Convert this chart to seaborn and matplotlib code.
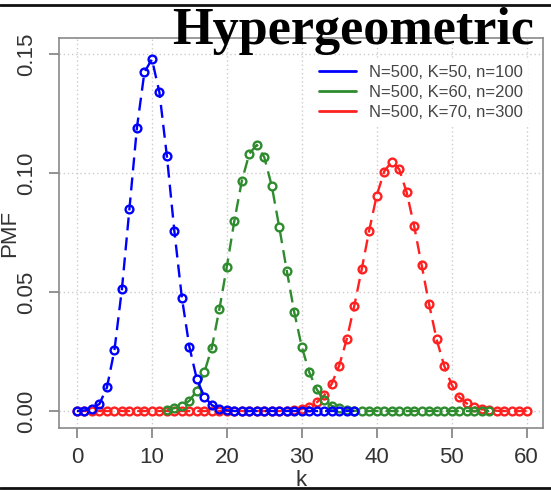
import matplotlib
matplotlib.use("Agg")
import matplotlib.pyplot as plt
from matplotlib.lines import Line2D
import seaborn as sns
import pandas as pd

# ---- data ----
blue_k = list(range(0, 38))
blue_pmf = [0.0000, 0.0002, 0.0010, 0.0030, 0.0099, 0.0256, 0.0513, 0.0849, 0.1190, 0.1423,
            0.1478, 0.1339, 0.1071, 0.0755, 0.0476, 0.0270, 0.0133, 0.0060, 0.0025, 0.0009,
            0.0003, 0.0000, 0.0000, 0.0000, 0.0000, 0.0000, 0.0000, 0.0000, 0.0000, 0.0000,
            0.0000, 0.0000, 0.0000, 0.0000, 0.0000, 0.0000, 0.0000, 0.0000]

green_k = list(range(12, 56))
green_pmf = [0.0004, 0.0012, 0.0021, 0.0043, 0.0085, 0.0163, 0.0266, 0.0427, 0.0606, 0.0798,
             0.0966, 0.1081, 0.1118, 0.1066, 0.0945, 0.0772, 0.0590, 0.0415, 0.0270, 0.0163,
             0.0091, 0.0045, 0.0022, 0.0011, 0.0004, 0.0001, 0.0000, 0.0000, 0.0000, 0.0000,
             0.0000, 0.0000, 0.0000, 0.0000, 0.0000, 0.0000, 0.0000, 0.0000, 0.0000, 0.0000,
             0.0000, 0.0000, 0.0000, 0.0000]

red_k = list(range(0, 61))
red_pmf = [0.0000, 0.0000, 0.0000, 0.0000, 0.0000, 0.0000, 0.0000, 0.0000, 0.0000, 0.0000,
           0.0000, 0.0000, 0.0000, 0.0000, 0.0000, 0.0000, 0.0000, 0.0000, 0.0000, 0.0000,
           0.0000, 0.0000, 0.0000, 0.0000, 0.0000, 0.0000, 0.0000, 0.0000, 0.0001, 0.0003,
           0.0008, 0.0018, 0.0036, 0.0066, 0.0114, 0.0191, 0.0301, 0.0440, 0.0595, 0.0758,
           0.0905, 0.1006, 0.1048, 0.1016, 0.0919, 0.0777, 0.0613, 0.0448, 0.0301, 0.0191,
           0.0111, 0.0059, 0.0032, 0.0016, 0.0007, 0.0003, 0.0001, 0.0000, 0.0000, 0.0000,
           0.0000]

series_labels = ["N=500, K=50, n=100", "N=500, K=60, n=200", "N=500, K=70, n=300"]
series_colors = ["#0000ff", "#2e8b2e", "#ff2020"]
x_ticks = [0, 10, 20, 30, 40, 50, 60]
y_ticks = [0.00, 0.05, 0.10, 0.15]
y_tick_labels = ["0.00", "0.05", "0.10", "0.15"]
title_text = "Hypergeometric"

# ---- figure ----
sns.set_style("white")
plt.rcParams["font.family"] = ["Liberation Sans", "DejaVu Sans"]

fig = plt.figure(figsize=(5.51, 4.91), dpi=100)
ax = fig.add_axes([59 / 551, 1 - 428 / 491, (543 - 59) / 551, (428 - 38) / 491])

frames = [
    (blue_k, blue_pmf, series_colors[0], series_labels[0], 5),
    (green_k, green_pmf, series_colors[1], series_labels[1], 4),
    (red_k, red_pmf, series_colors[2], series_labels[2], 3),
]
for ks, vals, col, lab, z in frames:
    df = pd.DataFrame({"k": ks, "PMF": vals})
    sns.lineplot(data=df, x="k", y="PMF", ax=ax, color=col, linestyle=(0, (5.5, 3)),
                 linewidth=1.7, marker="o", markersize=5.6, markerfacecolor="none",
                 markeredgecolor=col, markeredgewidth=1.7, zorder=z, legend=False)

ax.set_xlim(-2.4, 62.2)
ax.set_ylim(-0.00714, 0.1567)
ax.set_xticks(x_ticks)
ax.set_yticks(y_ticks)
ax.set_yticklabels(y_tick_labels, rotation=90, va="center")
ax.tick_params(axis="both", which="major", labelsize=16, length=7.5, width=1.2,
               color="#7f7f7f", labelcolor="#333333", direction="out")
ax.tick_params(axis="x", pad=6)
ax.tick_params(axis="y", pad=8)
ax.xaxis.set_ticks_position("bottom")
ax.yaxis.set_ticks_position("left")
ax.grid(True, linestyle=(0, (1, 2)), color="#cccccc", linewidth=1.0)
ax.set_axisbelow(True)
for sp in ax.spines.values():
    sp.set_color("#8a8a8a")
    sp.set_linewidth(1.2)
    sp.set_visible(True)

ax.set_xlabel("k", fontsize=16, color="#333333", va="top")
ax.xaxis.set_label_coords(0.5, (428 - 470) / 390)
ax.set_ylabel("PMF", fontsize=16, color="#333333")
ax.yaxis.set_label_coords((20 - 59) / 484, 0.5)

handles = [Line2D([0], [0], color=c, linewidth=2) for c in series_colors]
leg = ax.legend(handles, series_labels, loc="upper left",
                bbox_to_anchor=(306 / 551, 1 - 52 / 491), bbox_transform=fig.transFigure,
                fontsize=12, frameon=True, fancybox=False, framealpha=1,
                facecolor="white", edgecolor="none", handlelength=2.2,
                handletextpad=0.8, labelspacing=0.28, borderpad=0.3)
for t in leg.get_texts():
    t.set_color("#444444")

fig.text(534 / 551, 1 - 44 / 491, title_text, ha="right", va="baseline",
         fontsize=37.5, fontweight="bold", family="Liberation Serif", color="black")

fig.add_artist(Line2D([0, 1], [1 - 5 / 491, 1 - 5 / 491], transform=fig.transFigure,
                      color="#111111", linewidth=2))
fig.add_artist(Line2D([0, 1], [1 - 488 / 491, 1 - 488 / 491], transform=fig.transFigure,
                      color="#111111", linewidth=2))

fig.savefig("out.png", dpi=100)
